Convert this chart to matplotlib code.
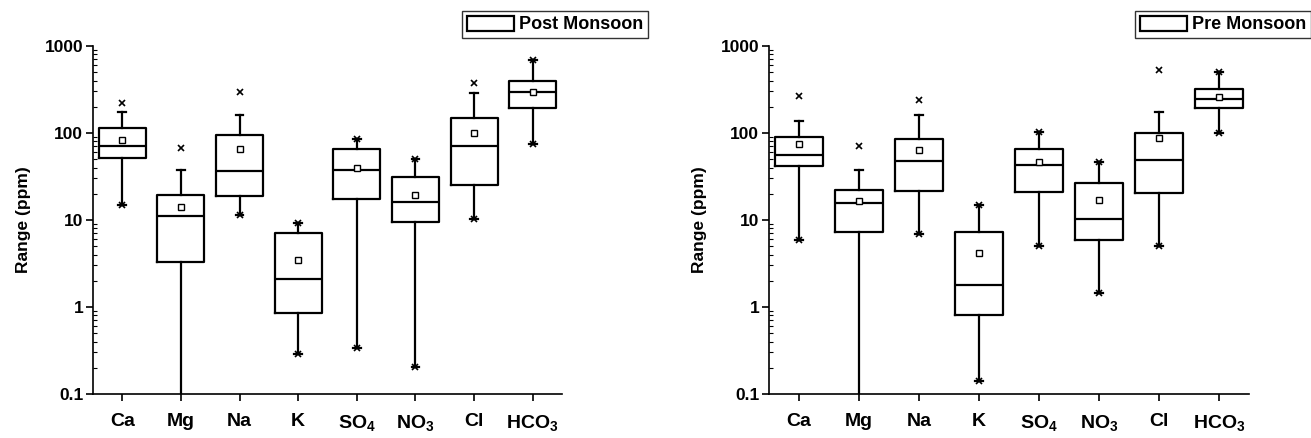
import matplotlib
matplotlib.use("Agg")
import matplotlib.pyplot as plt
from matplotlib.patches import Patch
from matplotlib.ticker import LogLocator, FixedLocator, FixedFormatter, NullFormatter

plt.rcParams['font.family'] = ['Liberation Sans', 'DejaVu Sans']
plt.rcParams['font.weight'] = 'bold'
plt.rcParams['mathtext.fontset'] = 'custom'
plt.rcParams['mathtext.rm'] = 'Liberation Sans:bold'
plt.rcParams['mathtext.bf'] = 'Liberation Sans:bold'
plt.rcParams['mathtext.default'] = 'bf'

ions = ['Ca', 'Mg', 'Na', 'K', 'SO$_4$', 'NO$_3$', 'Cl', 'HCO$_3$']

# Post Monsoon
post_whislo = [15, 0.05, 11.5, 0.29, 0.335, 0.204, 10.3, 75]
post_q1     = [52, 3.27, 18.7, 0.857, 17.6, 9.5, 25, 196]
post_med    = [71, 11.2, 36.8, 2.1, 38, 16.1, 71, 299]
post_q3     = [115, 19.5, 93.6, 7.16, 65, 31.4, 147, 400]
post_whishi = [172, 38, 161, 9.3, 85, 49.7, 286, 697]
post_mean   = [82, 14.1, 66, 3.44, 39.8, 19.5, 99.5, 299]
post_min    = [15, None, 11.5, 0.29, 0.335, 0.204, 10.3, 75]
post_max    = [224, 68, 294, 9.3, 85, 49.7, 376, 697]

# Pre Monsoon
pre_whislo = [5.9, 0.05, 6.9, 0.142, 5.0, 1.44, 5.0, 99.5]
pre_q1     = [42, 7.35, 21.3, 0.805, 20.8, 5.9, 20.2, 196]
pre_med    = [55.7, 15.7, 47.5, 1.8, 43, 10.3, 49.2, 244]
pre_q3     = [88.8, 21.9, 85, 7.35, 65.8, 26.8, 99.5, 318]
pre_whishi = [137, 38, 161, 15, 102, 45.9, 172, 508]
pre_mean   = [74.5, 16.4, 63.5, 4.18, 45.9, 16.8, 87.3, 260]
pre_min    = [5.9, None, 6.9, 0.142, 5.0, 1.44, 5.0, 99.5]
pre_max    = [269, 70.6, 238, 15, 102, 45.9, 531, 508]

ytick_vals = [0.1, 1, 10, 100, 1000]
ytick_labels = ['0.1', '1', '10', '100', '1000']

fig = plt.figure(figsize=(13.11, 4.38), dpi=100)
ax1 = fig.add_axes([0.0709, 0.1005, 0.3578, 0.7945])
ax2 = fig.add_axes([0.5866, 0.1005, 0.3660, 0.7945])


def draw(ax, whislo, q1, med, q3, whishi, mean, mn, mx, label, leg_anchor):
    stats = []
    for i in range(len(ions)):
        stats.append(dict(whislo=whislo[i], q1=q1[i], med=med[i], q3=q3[i],
                          whishi=whishi[i], mean=mean[i], fliers=[]))
    pos = list(range(1, len(ions) + 1))
    ax.bxp(stats, positions=pos, widths=0.8, showmeans=True, showfliers=False,
           capwidths=0.13,
           boxprops=dict(color='black', linewidth=1.6),
           medianprops=dict(color='black', linewidth=1.6),
           whiskerprops=dict(color='black', linewidth=1.6),
           capprops=dict(color='black', linewidth=1.6),
           meanprops=dict(marker='s', markerfacecolor='white', markeredgecolor='black',
                          markersize=4, markeredgewidth=1.0))
    xs_min = [p for p, v in zip(pos, mn) if v is not None]
    vs_min = [v for v in mn if v is not None]
    ax.plot(xs_min, vs_min, linestyle='none', marker='x', color='black',
            markersize=4.5, markeredgewidth=1.2, clip_on=False)
    ax.plot(pos, mx, linestyle='none', marker='x', color='black',
            markersize=4.5, markeredgewidth=1.2, clip_on=False)
    ax.set_yscale('log')
    ax.set_ylim(0.1, 1000)
    ax.set_xlim(0.5, 8.5)
    ax.set_xticks(pos)
    ax.set_xticklabels(ions, fontsize=14, fontweight='bold')
    ax.yaxis.set_major_locator(FixedLocator(ytick_vals))
    ax.yaxis.set_major_formatter(FixedFormatter(ytick_labels))
    ax.yaxis.set_minor_locator(LogLocator(base=10, subs=range(2, 10), numticks=20))
    ax.yaxis.set_minor_formatter(NullFormatter())
    for t in ax.get_yticklabels():
        t.set_fontsize(12.5)
        t.set_fontweight('bold')
    ax.tick_params(axis='y', which='major', direction='out', length=5, width=1.2, pad=2)
    ax.tick_params(axis='y', which='minor', direction='in', length=3, width=0.8)
    ax.tick_params(axis='x', which='major', direction='out', length=5, width=1.2, pad=9)
    ax.spines['top'].set_visible(False)
    ax.spines['right'].set_visible(False)
    for s in ('left', 'bottom'):
        ax.spines[s].set_linewidth(1.2)
    ax.set_ylabel('Range (ppm)', fontsize=12.5, fontweight='bold', labelpad=10)
    h = Patch(facecolor='white', edgecolor='black', linewidth=1.6, label=label)
    leg = fig.legend(handles=[h], loc='upper right', bbox_to_anchor=leg_anchor,
                     bbox_transform=fig.transFigure, frameon=True, fancybox=False,
                     prop=dict(size=13, weight='bold'), handlelength=2.6, handleheight=0.9,
                     handletextpad=0.3, borderpad=0.25, borderaxespad=0.0)
    leg.get_frame().set_edgecolor('black')
    leg.get_frame().set_linewidth(1.0)


draw(ax1, post_whislo, post_q1, post_med, post_q3, post_whishi, post_mean,
     post_min, post_max, 'Post Monsoon', (648 / 1311, 1 - 11 / 438))
draw(ax2, pre_whislo, pre_q1, pre_med, pre_q3, pre_whishi, pre_mean,
     pre_min, pre_max, 'Pre Monsoon', (1.0, 1 - 11 / 438))

fig.savefig('out.png', dpi=100)
